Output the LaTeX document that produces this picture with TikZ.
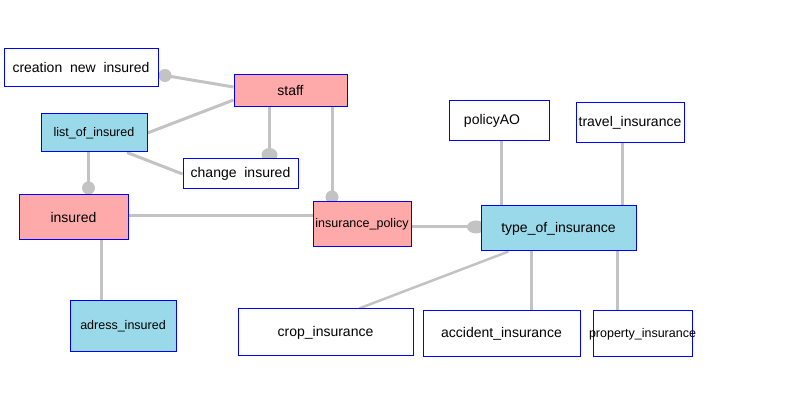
\documentclass[tikz,border=0pt]{standalone}
\usepackage{fontspec}
\setmainfont{Liberation Sans}
\usetikzlibrary{backgrounds}
\definecolor{boxpink}{RGB}{255,170,170}
\definecolor{boxblue}{RGB}{153,217,234}
\definecolor{linkgray}{RGB}{195,195,195}
\tikzset{
entity/.style={draw=blue, line width=1pt, fill=white, inner sep=0pt, font=\fontsize{14}{16}\selectfont},
pinkent/.style={entity, fill=boxpink},
blueent/.style={entity, fill=boxblue},
smalltext/.style={font=\fontsize{12.5}{14}\selectfont},
link/.style={draw=linkgray, line width=3pt},
knob/.style={fill=linkgray}
}
\begin{document}
\begin{tikzpicture}[x=1pt,y=-1pt]
\useasboundingbox (0,0) rectangle (798,419);
% entities
\node[entity, minimum width=154pt, minimum height=38pt] (creation) at (81,68) {creation~~new~~insured};
\node[pinkent, minimum width=113pt, minimum height=32pt] (staff) at (290.5,91) {staff};
\node[blueent, smalltext, minimum width=106pt, minimum height=38pt] (list) at (94,133) {list\_of\_insured};
\node[entity, minimum width=115pt, minimum height=30pt] (change) at (240.5,174) {change~~insured};
\node[pinkent, minimum width=109pt, minimum height=45pt] (insured) at (73.5,217.5) {insured};
\node[pinkent, smalltext, minimum width=98pt, minimum height=45pt] (policy) at (362,224.5) {\makebox[0pt]{insurance\_policy}};
\node[blueent, minimum width=155pt, minimum height=45pt] (type) at (558.5,228.5) {type\_of\_insurance};
\node[entity, minimum width=100pt, minimum height=40pt] (policyAO) at (499,121) {\makebox[0pt]{\hspace{-14pt}policyAO}};
\node[entity, minimum width=108pt, minimum height=40pt] (travel) at (630,123) {travel\_insurance};
\node[blueent, smalltext, minimum width=106pt, minimum height=51pt] (adress) at (123,326.5) {adress\_insured};
\node[entity, minimum width=175pt, minimum height=47pt] (crop) at (325.5,332.5) {crop\_insurance};
\node[entity, minimum width=157pt, minimum height=46pt] (accident) at (501.5,334) {accident\_insurance};
\node[entity, smalltext, minimum width=99pt, minimum height=46pt] (property) at (642.5,334) {\makebox[0pt]{property\_insurance}};
% ends of the links
\coordinate (k1) at (165,75.5);
\coordinate (k2) at (269.5,155);
\coordinate (k3) at (88.5,188);
\coordinate (k4) at (332,197);
\coordinate (k5) at (476,227);
\begin{scope}[on background layer]
\draw[link] (k1) -- ([yshift=4pt]staff.west);
\draw[link] ([yshift=-9pt]staff.west) -- (list.east);
\draw[link] (staff.south -| k2) -- (k2);
\draw[link] ([xshift=33pt]list.south) -- (change.west);
\draw[link] (list.south -| k3) -- (k3);
\draw[link] (staff.south -| k4) -- (k4);
\draw[link] ([yshift=2pt]insured.east) -- ([yshift=2pt]insured.east -| policy.west);
\draw[link] (policy.east |- k5) -- (k5);
\draw[link] ([xshift=27.5pt]insured.south) -- ([xshift=27.5pt]insured.south |- adress.north);
\draw[link] ([xshift=2pt]policyAO.south) -- ([xshift=2pt]policyAO.south |- type.north);
\draw[link] ([xshift=-8pt]travel.south) -- ([xshift=-8pt]travel.south |- type.north);
\draw[link, line width=2.5pt] ([xshift=-50pt]type.south) -- ([xshift=33.5pt]crop.north);
\draw[link] ([xshift=-27.5pt]type.south) -- ([xshift=-27.5pt]type.south |- accident.north);
\draw[link] ([xshift=58.5pt]type.south) -- ([xshift=58.5pt]type.south |- property.north);
\foreach \k in {k1,k3,k4}
{
\fill[knob] (\k) circle [radius=6.5pt];
}
\fill[knob] (k2) ellipse [x radius=8pt, y radius=7pt];
\fill[knob] (k5) ellipse [x radius=9pt, y radius=6.5pt];
\end{scope}
\end{tikzpicture}
\end{document}
